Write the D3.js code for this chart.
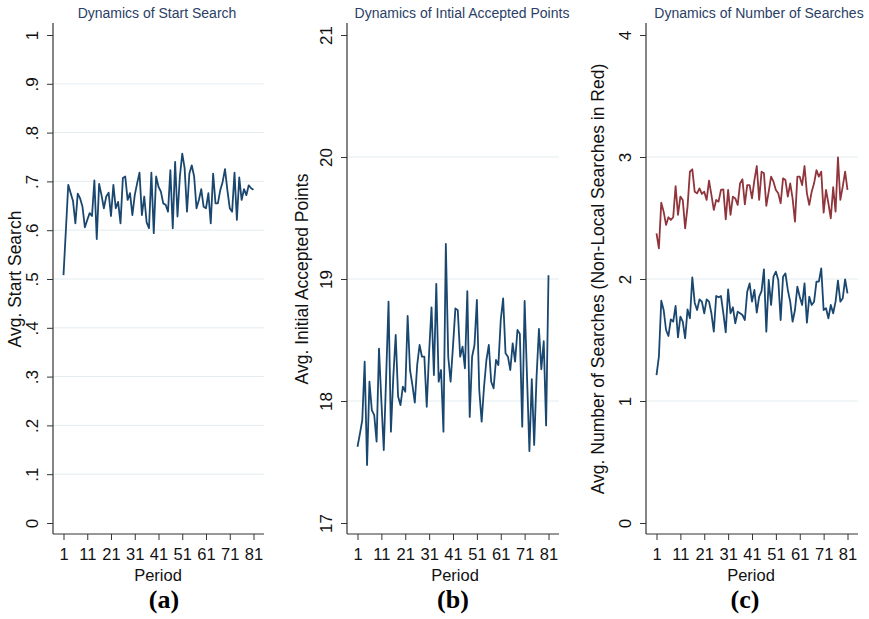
<!DOCTYPE html>
<html><head><meta charset="utf-8">
<script src="https://cdn.jsdelivr.net/npm/d3@7"></script>
<style>body{margin:0;background:#fff}svg{display:block;font-family:"Liberation Sans",Arial,sans-serif}</style>
</head><body><svg id="chart" width="869" height="619"></svg>
<script>
const periods = [1,2,3,4,5,6,7,8,9,10,11,12,13,14,15,16,17,18,19,20,21,22,23,24,25,26,27,28,29,30,31,32,33,34,35,36,37,38,39,40,41,42,43,44,45,46,47,48,49,50,51,52,53,54,55,56,57,58,59,60,61,62,63,64,65,66,67,68,69,70,71,72,73,74,75,76,77,78,79,80,81];
const xTicks = [1,11,21,31,41,51,61,71,81];

const startSearch = [0.508,0.600,0.693,0.676,0.660,0.614,0.675,0.665,0.648,0.606,
 0.621,0.635,0.629,0.702,0.582,0.695,0.672,0.645,0.669,0.677,
 0.629,0.693,0.645,0.658,0.614,0.707,0.710,0.662,0.676,0.631,
 0.672,0.696,0.718,0.631,0.669,0.616,0.604,0.718,0.594,
 0.710,0.689,0.679,0.655,0.652,0.638,0.723,0.604,0.740,0.628,
 0.710,0.757,0.727,0.638,0.716,0.733,0.710,0.645,0.662,0.684,
 0.648,0.645,0.676,0.614,0.716,0.655,0.655,0.682,0.699,0.725,
 0.682,0.645,0.638,0.718,0.621,0.708,0.662,0.684,0.672,0.692,
 0.686,0.683];

const acceptedPoints = [17.625,17.73,17.844,18.322,17.475,18.158,17.926,17.885,17.667,18.43,
 18.0,17.598,18.2,18.814,17.749,18.2,18.541,18.036,17.967,18.117,
 18.076,18.697,18.254,18.131,17.986,18.295,18.459,18.363,18.363,17.953,
 18.4,18.768,18.213,18.96,18.158,18.254,17.749,
 19.287,18.363,18.158,18.45,18.759,18.745,18.363,18.445,18.268,18.9,
 17.87,18.363,18.459,18.828,18.09,17.831,18.117,18.336,18.459,18.158,
 18.104,18.336,18.295,18.664,18.841,18.391,18.363,18.254,18.473,18.322,
 18.582,18.55,17.79,18.82,18.2,17.59,18.18,17.64,18.2,18.59,
 18.26,18.49,17.80,19.03];

const searchesAll = [1.213,1.363,1.822,1.746,1.582,1.533,1.669,1.650,1.779,1.522,
 1.691,1.650,1.514,1.751,1.678,2.014,1.806,1.746,1.833,1.814,
 1.719,1.833,1.814,1.719,1.568,1.861,1.850,1.861,1.719,1.563,
 1.915,1.719,1.768,1.637,1.732,1.719,1.705,
 1.664,1.896,1.964,1.814,1.910,1.724,1.855,1.90,2.079,1.568,
 1.992,1.787,2.019,2.060,1.992,1.664,2.019,2.046,1.910,1.814,
 1.650,1.746,1.937,1.855,1.787,1.964,1.642,1.855,1.787,1.814,
 1.978,1.978,2.087,1.746,1.760,1.678,1.787,1.719,1.814,1.986,
 1.814,1.842,1.997,1.882];

const searchesNonLocal = [2.374,2.251,2.626,2.552,2.443,2.506,2.484,2.506,2.762,2.525,
 2.675,2.648,2.415,2.593,2.880,2.899,2.716,2.702,2.743,2.697,
 2.716,2.648,2.806,2.689,2.566,2.648,2.634,2.730,2.735,2.489,
 2.730,2.525,2.675,2.661,2.607,2.784,2.817,
 2.612,2.770,2.770,2.661,2.811,2.926,2.648,2.880,2.866,2.600,
 2.716,2.839,2.798,2.730,2.702,2.621,2.825,2.811,2.675,2.784,
 2.661,2.470,2.839,2.839,2.770,2.926,2.702,2.607,2.716,2.784,
 2.893,2.839,2.880,2.544,2.730,2.621,2.498,2.752,2.552,2.997,
 2.648,2.757,2.880,2.730];

const yTicksA = [0,0.1,0.2,0.3,0.4,0.5,0.6,0.7,0.8,0.9,1];
const yLabelsA = ["0",".1",".2",".3",".4",".5",".6",".7",".8",".9","1"];
const yTicksB = [17,18,19,20,21];
const yLabelsB = ["17","18","19","20","21"];
const yTicksC = [0,1,2,3,4];
const yLabelsC = ["0","1","2","3","4"];
const titles = ["Dynamics of Start Search","Dynamics of Intial Accepted Points","Dynamics of Number of Searches"];
const yTitles = ["Avg. Start Search","Avg. Initial Accepted Points","Avg. Number of Searches (Non-Local Searches in Red)"];
const xTitle = "Period";
const panelLetters = ["(a)","(b)","(c)"];

const BLUE = "#1a476f", RED = "#90353b";
const FONT = "'Liberation Sans',Arial,sans-serif";
const svg = d3.select("#chart");

const panels = [
  {left:53, right:264, yTicks:yTicksA, yLabels:yLabelsA, series:[[startSearch,BLUE]], title:titles[0], titleX:157, yTitle:yTitles[0], yTitleX:15, periodX:158, letterX:164, letter:panelLetters[0]},
  {left:347, right:559, yTicks:yTicksB, yLabels:yLabelsB, series:[[acceptedPoints,BLUE]], title:titles[1], titleX:462, yTitle:yTitles[1], yTitleX:302, periodX:455, letterX:453, letter:panelLetters[1]},
  {left:646, right:858, yTicks:yTicksC, yLabels:yLabelsC, series:[[searchesNonLocal,RED],[searchesAll,BLUE]], title:titles[2], titleX:759, yTitle:yTitles[2], yTitleX:598, periodX:751, letterX:745, letter:panelLetters[2]}
];

const TOP = 23, BOTTOM = 534, Y0 = 523, Y1 = 35;

panels.forEach(p => {
  const g = svg.append("g");
  const x = d3.scaleLinear().domain([periods[0], periods[periods.length-1]]).range([p.left+10.5, p.right-10.5]);
  const y = d3.scaleLinear().domain([p.yTicks[0], p.yTicks[p.yTicks.length-1]]).range([Y0, Y1]);

  // gridlines
  g.selectAll("line.grid").data(p.yTicks.slice(1,-1)).join("line").attr("class","grid")
    .attr("x1",p.left).attr("x2",p.right).attr("y1",d=>y(d)).attr("y2",d=>y(d))
    .attr("stroke","#e3ecef").attr("stroke-width",1);

  // y axis
  const ya = g.append("g").attr("transform",`translate(${p.left},0)`)
    .call(d3.axisLeft(y).tickValues(p.yTicks).tickFormat((d,i)=>p.yLabels[i]).tickSize(6).tickSizeOuter(0));
  ya.select(".domain").remove();
  ya.selectAll(".tick line").attr("stroke","#333");
  ya.selectAll(".tick text").attr("x",null).attr("dy",null)
    .attr("transform","rotate(-90)").attr("text-anchor","middle").attr("y",-15)
    .attr("font-size",17).attr("fill","#111").attr("font-family",FONT);
  g.append("line").attr("x1",p.left).attr("x2",p.left).attr("y1",TOP).attr("y2",BOTTOM).attr("stroke","#333").attr("stroke-width",1.2);

  // x axis
  const xa = g.append("g").attr("transform",`translate(0,${BOTTOM})`)
    .call(d3.axisBottom(x).tickValues(xTicks).tickFormat(d3.format("d")).tickSize(6).tickSizeOuter(0));
  xa.select(".domain").remove();
  xa.selectAll(".tick line").attr("stroke","#333");
  xa.selectAll(".tick text").attr("y",14).attr("dy","0.71em").attr("font-size",16.5).attr("fill","#111")
    .attr("font-family",FONT);
  g.append("line").attr("x1",p.left).attr("x2",p.right).attr("y1",BOTTOM).attr("y2",BOTTOM).attr("stroke","#333").attr("stroke-width",1.2);

  // series
  const line = d3.line().x((d,i)=>x(periods[i])).y(d=>y(d));
  p.series.forEach(([vals,col]) => {
    g.append("path").datum(vals).attr("d",line).attr("fill","none").attr("stroke",col)
      .attr("stroke-width",1.8).attr("stroke-linejoin","round");
  });

  // titles
  g.append("text").attr("x",p.titleX).attr("y",18).attr("text-anchor","middle")
    .attr("font-size",14).attr("fill","#2a4066").text(p.title);
  g.append("text").attr("transform",`translate(${p.yTitleX},${(Y0+Y1)/2}) rotate(-90)`)
    .attr("text-anchor","middle").attr("dy","0.35em").attr("font-size",17.5).attr("fill","#111").text(p.yTitle);
  g.append("text").attr("x",p.periodX).attr("y",581).attr("text-anchor","middle")
    .attr("font-size",16.5).attr("fill","#111").text(xTitle);
  g.append("text").attr("x",p.letterX).attr("y",608).attr("text-anchor","middle")
    .attr("font-size",26).attr("font-weight","bold").attr("font-family","'Liberation Serif','Times New Roman',serif")
    .attr("fill","#000").text(p.letter);
});
</script></body></html>
